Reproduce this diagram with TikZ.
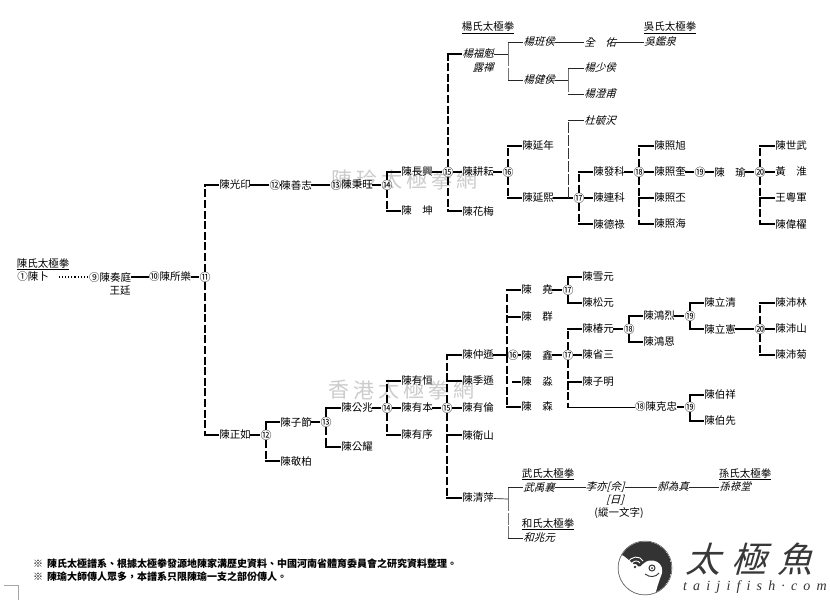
\documentclass[tikz,border=0pt]{standalone}
\usepackage{fontspec}
\setmainfont{Noto Sans CJK TC}
\newfontfamily\cjkit[FakeSlant=0.28]{Noto Sans CJK TC}
\newfontfamily\logolat[LetterSpace=44]{Liberation Serif Italic}
\newcommand\ppn[4]{\node[pname] (#1) at (#2,#3) {#4};}
\newcommand\ppi[4]{\node[pname,font=\fontsize{10.5}{12}\selectfont\cjkit] (#1) at (#2,#3) {#4};}
\newcommand\ppc[4]{\node[pcirc] (#1) at (#2,#3) {#4};}
\newcommand\pttl[4]{\node[pname] (#1) at (#2,#3) {\underline{#4}};}
\newcommand\conn[2]{\draw[hl] (#1) -- (#2);}
\newcommand\branch[3][vd]{\draw[#1] (#2) -- (#2 |- #3); \draw[hl] (#2 |- #3) -- (#3);}
\tikzset{
  pname/.style={inner sep=0pt,font=\fontsize{10.5}{12}\selectfont,text=black},
  pcirc/.style={inner sep=0pt,font=\fontsize{11}{12}\selectfont,text=black},
  hl/.style={line width=1.2pt,black,shorten <=-.6pt},
  vd/.style={line width=1.4pt,black,dash pattern=on 8pt off 2.6pt},
  thinh/.style={line width=.7pt,black!85},
  thinv/.style={line width=.9pt,black!55,dash pattern=on 12pt off 1.5pt},
  wm/.style={inner sep=0pt,font=\fontsize{21}{24}\selectfont,text=black!20},
  logo/.style={inner sep=0pt,font=\fontsize{35}{38}\selectfont\cjkit,text=black!78},
}
\begin{document}
\begin{tikzpicture}[x=1pt,y=-1pt]
\useasboundingbox[fill=white] (0,0) rectangle (830,600);
% watermarks
\foreach \c [count=\i from 0] in {陳,玲,太,極,拳,網}{\node[wm] (wa\i) at (342+25*\i,180) {\c};}
\foreach \c [count=\i from 0] in {香,港,太,極,拳,網}{\node[wm] (wb\i) at (339+25*\i,390) {\c};}
% left part
\pttl{t0}{43}{264}{陳氏太極拳}
\ppn{a1}{33}{277}{①陳卜}
\ppn{a9}{110}{277}{⑨陳奏庭}
\ppn{a9b}{120}{291}{王廷}
\ppn{a10}{170}{277}{⑩陳所樂}
\ppc{c11}{205}{277}{⑪}
\draw[line width=1.1pt,dotted,black] (a1.east)++(10,0) -- (a9);
\conn{a9}{a10}\conn{a10}{c11}
% upper branch
\ppn{u1}{235}{185}{陳光印}
\ppc{c12}{275}{185}{⑫}
\ppn{u2}{296}{185}{陳善志}
\ppc{c13}{336}{185}{⑬}
\ppn{u3}{357}{185}{陳秉旺}
\ppc{c14}{387}{185}{⑭}
\ppn{u4}{417}{172}{陳長興}
\ppn{u5}{417}{211}{陳　坤}
\ppc{c15}{448}{172}{⑮}
\ppi{y1}{478}{54}{楊福魁}
\ppi{y1b}{483}{68}{露禪}
\pttl{ty}{488}{28}{楊氏太極拳}
\ppn{u6}{478}{172}{陳耕耘}
\ppn{u7}{478}{211}{陳花梅}
\ppc{c16}{508}{172}{⑯}
\ppn{u8}{538}{146}{陳延年}
\ppn{u9}{538}{198}{陳延熙}
\ppc{c17}{579}{198}{⑰}
\ppi{y2}{539}{42}{楊班侯}
\ppi{y3}{539}{80}{楊健侯}
\ppi{y4}{600}{42}{全　佑}
\ppi{y5}{660}{42}{吳鑑泉}
\pttl{tw}{670}{28}{吳氏太極拳}
\ppi{y6}{600}{68}{楊少侯}
\ppi{y7}{600}{94}{楊澄甫}
\ppi{y8}{600}{120}{杜毓沢}
\ppn{k1}{609}{172}{陳發科}
\ppn{k2}{609}{198}{陳連科}
\ppn{k3}{609}{224}{陳德祿}
\ppc{c18}{639}{172}{⑱}
\ppn{z1}{670}{146}{陳照旭}
\ppn{z2}{670}{172}{陳照奎}
\ppn{z3}{670}{198}{陳照丕}
\ppn{z4}{670}{224}{陳照海}
\ppc{c19}{700}{172}{⑲}
\ppn{z5}{730}{172}{陳　瑜}
\ppc{c20}{760}{172}{⑳}
\ppn{d1}{791}{146}{陳世武}
\ppn{d2}{791}{172}{黃　淮}
\ppn{d3}{791}{198}{王粵軍}
\ppn{d4}{791}{224}{陳偉櫂}
\branch{c11}{u1}
\conn{u1}{c12}\conn{c12}{u2}\conn{u2}{c13}\conn{u3}{c14}
\branch{c14}{u4}\branch{c14}{u5}
\conn{u4}{c15}
\branch{c15}{y1}\branch{c15}{u7}
\conn{c15}{u6}\conn{u6}{c16}
\branch{c16}{u8}\branch{c16}{u9}
\conn{u9}{c17}
\coordinate (fy) at (508,54);
\draw[thinh] (y1) -- (fy);
\draw[thinv] (fy) -- (fy |- y2); \draw[thinh] (fy |- y2) -- (y2);
\draw[thinv] (fy) -- (fy |- y3); \draw[thinh] (fy |- y3) -- (y3);
\draw[thinh] (y2) -- (y4); \draw[thinh] (y4) -- (y5);
\coordinate (fz) at (568,80);
\draw[thinh] (y3) -- (fz);
\draw[thinv] (fz) -- (fz |- y6); \draw[thinh] (fz |- y6) -- (y6);
\draw[thinv] (fz) -- (fz |- y7); \draw[thinh] (fz |- y7) -- (y7);
\coordinate (fd) at (568,198);
\draw[line width=.7pt,black!80,dash pattern=on 11pt off 2pt] (fd) -- (fd |- y8); \draw[thinh] (fd |- y8) -- (y8);
\branch{c17}{k1}\branch{c17}{k3}
\conn{c17}{k2}\conn{k1}{c18}
\branch{c18}{z1}\branch{c18}{z4}\branch{c18}{z3}
\conn{c18}{z2}\conn{z2}{c19}\conn{c19}{z5}\conn{z5}{c20}
\branch{c20}{d1}\branch{c20}{d4}\branch{c20}{d3}
\conn{c20}{d2}
% lower branch
\ppn{l1}{235}{435}{陳正如}
\ppc{l12}{266}{435}{⑫}
\ppn{l2}{296}{422}{陳子節}
\ppn{l3}{296}{461}{陳敬柏}
\ppc{l13}{326}{422}{⑬}
\ppn{l4}{357}{408}{陳公兆}
\ppn{l5}{357}{447}{陳公耀}
\ppc{l14}{387}{408}{⑭}
\ppn{l6}{417}{381}{陳有恒}
\ppn{l7}{417}{408}{陳有本}
\ppn{l8}{417}{435}{陳有序}
\ppc{l15}{447}{408}{⑮}
\ppn{m1}{478}{355}{陳仲遜}
\ppn{m2}{478}{381}{陳季遜}
\ppn{m3}{478}{408}{陳有倫}
\ppn{m4}{478}{435}{陳衛山}
\ppn{m5}{478}{498}{陳清萍}
\ppc{l16}{513}{355}{⑯}
\coordinate (f16) at (507,355);
\ppn{n1}{537}{290}{陳　堯}
\ppn{n2}{537}{317}{陳　群}
\ppn{n3}{537}{355}{陳　鑫}
\ppn{n4}{537}{382}{陳　淼}
\ppn{n5}{537}{407}{陳　森}
\coordinate (g16) at (513,382);
\ppc{q17}{568}{290}{⑰}
\ppc{r17}{568}{355}{⑰}
\ppn{p1}{598}{277}{陳雪元}
\ppn{p2}{598}{303}{陳松元}
\ppn{p3}{598}{329}{陳椿元}
\ppn{p4}{598}{355}{陳省三}
\ppn{p5}{598}{382}{陳子明}
\ppn{p6}{656}{407}{⑱陳克忠}
\coordinate (e17) at (568,407);
\ppc{s19}{690}{407}{⑲}
\ppn{w1}{720}{395}{陳伯祥}
\ppn{w2}{720}{421}{陳伯先}
\ppc{s18}{629}{329}{⑱}
\ppn{v1}{659}{316}{陳鴻烈}
\ppn{v2}{659}{342}{陳鴻恩}
\ppc{t19}{690}{316}{⑲}
\ppn{x1}{720}{303}{陳立清}
\ppn{x2}{720}{329}{陳立憲}
\ppc{t20}{760}{329}{⑳}
\ppn{o1}{791}{303}{陳沛林}
\ppn{o2}{791}{329}{陳沛山}
\ppn{o3}{791}{355}{陳沛菊}
\branch{c11}{l1}
\conn{l1}{l12}
\branch{l12}{l2}\branch{l12}{l3}
\conn{l2}{l13}
\branch{l13}{l4}\branch{l13}{l5}
\conn{l4}{l14}
\branch{l14}{l6}\branch{l14}{l8}
\conn{l14}{l7}\conn{l7}{l15}
\branch{l15}{m1}\branch{l15}{m5}\branch{l15}{m2}\branch{l15}{m4}
\conn{l15}{m3}
\conn{m1}{l16}
\branch{f16}{n1}\branch{f16}{n5}\branch{f16}{n2}
\conn{l16}{n3}\conn{g16}{n4}
\conn{n1}{q17}\conn{n3}{r17}
\branch{q17}{p1}\branch{q17}{p2}
\branch{r17}{p3}\branch{r17}{e17}
\conn{r17}{p4}
\draw[hl] (r17 |- p5) -- (p5);
\draw[line width=.9pt,black,shorten <=-.6pt] (e17) -- (p6);
\conn{p6}{s19}
\branch{s19}{w1}\branch{s19}{w2}
\conn{p3}{s18}
\branch{s18}{v1}\branch{s18}{v2}
\conn{v1}{t19}
\branch{t19}{x1}\branch{t19}{x2}
\conn{x2}{t20}
\branch{t20}{o1}\branch{t20}{o3}
\conn{t20}{o2}
% Wu / He / Sun
\pttl{tm}{548}{474}{武氏太極拳}
\ppi{b1}{539}{487}{武禹襄}
\ppi{b2}{605}{487}{李亦[佘]}
\ppi{b2a}{615}{500}{[日]}
\ppn{b2b}{619}{513}{(縱一文字)}
\ppi{b3}{673}{487}{郝為真}
\pttl{ts}{745}{474}{孫氏太極拳}
\ppi{b4}{735}{487}{孫祿堂}
\pttl{th}{548}{524}{和氏太極拳}
\ppi{b5}{539}{538}{和兆元}
\coordinate (fw) at (508,499);
\draw[thinh] (m5) -- (fw);
\draw[thinv] (fw) -- (fw |- b1); \draw[thinh] (fw |- b1) -- (b1);
\draw[thinv] (fw) -- (fw |- b5); \draw[thinh] (fw |- b5) -- (b5);
\draw[thinh] (b1) -- (b2); \draw[thinh] (b2) -- (b3); \draw[thinh] (b3) -- (b4);
% notes
\node[anchor=west,inner sep=0pt,font=\fontsize{10}{12}\selectfont\bfseries] (note1) at (33,564) {※\hspace{4pt}陳氏太極譜系、根據太極拳發源地陳家溝歷史資料、中國河南省體育委員會之研究資料整理。};
\node[anchor=west,inner sep=0pt,font=\fontsize{10}{12}\selectfont\bfseries] (note2) at (33,577) {※\hspace{4pt}陳瑜大師傳人眾多，本譜系只限陳瑜一支之部份傳人。};
\draw[line width=.5pt,black!35] (4,585) -- (18,585) -- (18,600);
% logo
\begin{scope}
\clip (645,568) circle (26.5);
\fill[black!80] (645,568) circle (26.5);
\fill[white] (615,553) .. controls (628,553) and (636,574) .. (643,564) .. controls (650,556) and (667,562) .. (661,576) .. controls (658,584) and (656,590) .. (655,597) -- (612,600) -- cycle;
\end{scope}
\draw[line width=.5pt,black!70] (645,568) circle (27);
\draw[white,line width=.9pt] (628,563) .. controls (630,556) and (640,555) .. (643,561);
\draw[white,line width=.9pt] (631,565) .. controls (633,560) and (638,560) .. (640,563);
\fill[white] (635,567) circle (3); \fill[black!80] (635,567) circle (1.3);
\draw[black!80,line width=1pt] (652,568) circle (3); \fill[black!80] (652,568) circle (1);
\draw[black!80,line width=.9pt] (645,574) .. controls (650,578) and (656,577) .. (659,573);
\node[logo] (lg1) at (703,559) {太};
\node[logo] (lg2) at (749,559) {極};
\node[logo] (lg3) at (795,559) {魚};
\node[inner sep=0pt,anchor=west,font=\fontsize{14}{16}\selectfont\logolat,text=black!80] (lg4) at (683,587) {taijifish·com};
\end{tikzpicture}
\end{document}
